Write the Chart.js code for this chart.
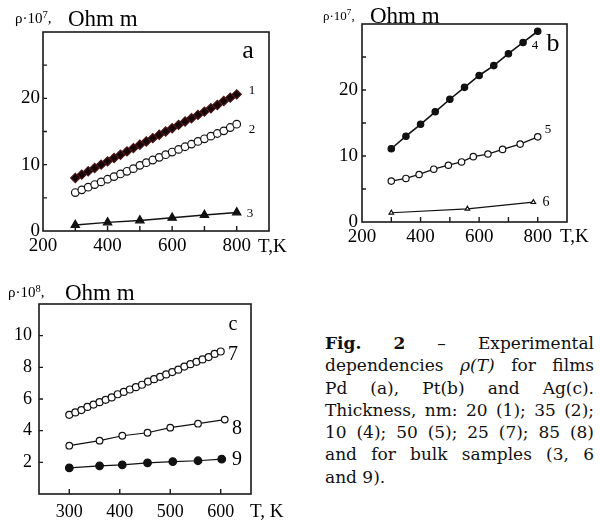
<!DOCTYPE html>
<html>
<head>
<meta charset="utf-8">
<script src="https://cdn.jsdelivr.net/npm/chart.js@4.4.0/dist/chart.umd.min.js"></script>
<style>
  html, body { margin: 0; padding: 0; background: #fff; }
  #page { position: relative; width: 600px; height: 523px; overflow: hidden; font-family: "Liberation Serif", serif; color: #000; }
  canvas { position: absolute; }
  .c { position: absolute; white-space: nowrap; line-height: 1; transform: translate(-50%, -50%); }
  .l { position: absolute; white-space: nowrap; line-height: 1; transform: translateY(-50%); }
  .l sup { font-size: 0.7em; vertical-align: 0.45em; line-height: 0; }
  #caption { position: absolute; left: 325px; top: 332px; width: 269px; font-family: "DejaVu Serif", serif; font-size: 17px; color: #111; }
  #caption div { height: 22.3px; line-height: 22.3px; white-space: nowrap; text-align: justify; text-align-last: justify; }
  #caption div.last { text-align: left; text-align-last: left; }
</style>
</head>
<body>
<div id="page">
  <canvas id="chartA" width="300" height="260" style="left:0;top:0"></canvas>
  <canvas id="chartB" width="300" height="260" style="left:300px;top:0"></canvas>
  <canvas id="chartC" width="300" height="253" style="left:0;top:270px"></canvas>

  <!-- panel a -->
  <div class="l" style="left:15px;top:18px;font-size:15px">ρ·10<sup>7</sup>,</div>
  <div class="l" style="left:68px;top:18px;font-size:23px">Ohm m</div>
  <div class="c" style="left:248px;top:50px;font-size:26px">a</div>
  <div class="c" style="left:252px;top:89px;font-size:13px">1</div>
  <div class="c" style="left:252px;top:128px;font-size:13px">2</div>
  <div class="c" style="left:250px;top:212px;font-size:13px">3</div>
  <div class="l" style="left:258px;top:245px;font-size:19px">T,K</div>

  <!-- panel b -->
  <div class="l" style="left:323px;top:15px;font-size:13px">ρ·10<sup>7</sup>,</div>
  <div class="l" style="left:370px;top:15px;font-size:23px">Ohm m</div>
  <div class="c" style="left:553px;top:43px;font-size:26px">b</div>
  <div class="c" style="left:535px;top:44px;font-size:13px">4</div>
  <div class="c" style="left:548px;top:128px;font-size:13px">5</div>
  <div class="c" style="left:546px;top:202px;font-size:14px">6</div>
  <div class="l" style="left:560px;top:235px;font-size:19px">T,K</div>

  <!-- panel c -->
  <div class="l" style="left:8px;top:292px;font-size:15px">ρ·10<sup>8</sup>,</div>
  <div class="l" style="left:65px;top:292px;font-size:23px">Ohm m</div>
  <div class="c" style="left:233px;top:323px;font-size:20px">c</div>
  <div class="c" style="left:233px;top:353px;font-size:20px">7</div>
  <div class="c" style="left:237px;top:427px;font-size:20px">8</div>
  <div class="c" style="left:237px;top:458px;font-size:20px">9</div>
  <div class="l" style="left:250px;top:510px;font-size:19px">T, K</div>

  <div id="caption">
    <div><b>Fig.</b> <b>2</b> – Experimental</div>
    <div>dependencies <i>ρ(T)</i> for films</div>
    <div>Pd (a), Pt(b) and Ag(c).</div>
    <div>Thickness, nm: 20 (1); 35 (2);</div>
    <div>10 (4); 50 (5); 25 (7); 85 (8)</div>
    <div>and for bulk samples (3, 6</div>
    <div class="last">and 9).</div>
  </div>
</div>

<script>
// ---- data ----
// panel a : Pd films
const tempA = [300, 320, 340, 360, 380, 400, 420, 440, 460, 480, 500, 520, 540,
               560, 580, 600, 620, 640, 660, 680, 700, 720, 740, 760, 780, 800];
const rhoA1 = [8.0, 8.5, 9.0, 9.5, 10.0, 10.5, 11.0, 11.5, 12.0, 12.5, 13.0, 13.5, 14.0,
               14.5, 15.0, 15.5, 16.0, 16.5, 17.0, 17.5, 18.0, 18.5, 19.0, 19.6, 20.1, 20.6];
const rhoA2 = [5.8, 6.2, 6.6, 7.0, 7.4, 7.8, 8.2, 8.6, 9.0, 9.4, 9.9, 10.3, 10.7,
               11.1, 11.5, 11.9, 12.3, 12.7, 13.1, 13.5, 13.9, 14.3, 14.7, 15.1, 15.6, 16.1];
const tempA3 = [300, 400, 500, 600, 700, 800];
const rhoA3 = [0.9, 1.3, 1.6, 2.0, 2.4, 2.8];

// panel b : Pt films
const tempB4 = [300, 350, 400, 450, 500, 550, 600, 650, 700, 750, 800];
const rhoB4 = [11.1, 13.0, 14.8, 16.7, 18.6, 20.4, 22.2, 23.7, 25.5, 27.2, 28.9];
const tempB5 = [300, 350, 395, 445, 495, 540, 580, 630, 680, 740, 800];
const rhoB5 = [6.2, 6.6, 7.2, 8.0, 8.6, 9.1, 9.9, 10.3, 11.0, 11.8, 12.9];
const tempB6 = [300, 560, 785];
const rhoB6 = [1.4, 2.0, 3.0];

// panel c : Ag films
const tempC7 = [300, 312, 324, 336, 348, 360, 372, 384, 396, 408, 420, 432, 444,
                456, 468, 480, 492, 504, 516, 528, 540, 552, 564, 576, 588, 600];
const rhoC7 = [5.0, 5.15, 5.3, 5.5, 5.65, 5.8, 5.95, 6.1, 6.3, 6.45, 6.6, 6.75, 6.9,
               7.1, 7.25, 7.4, 7.55, 7.7, 7.85, 8.05, 8.2, 8.35, 8.5, 8.65, 8.85, 9.0];
const tempC8 = [300, 360, 405, 455, 500, 555, 608];
const rhoC8 = [3.05, 3.37, 3.68, 3.87, 4.19, 4.44, 4.7];
const tempC9 = [300, 360, 405, 455, 505, 555, 602];
const rhoC9 = [1.65, 1.78, 1.84, 1.97, 2.05, 2.1, 2.2];

// ticks
const ticksXA = [200, 300, 400, 500, 600, 700, 800, 900];
const labelsXA = [200, 400, 600, 800];
const ticksYA = [0, 5, 10, 15, 20, 25, 30];
const labelsYA = [0, 10, 20];
const ticksXC = [300, 400, 500, 600];
const labelsXC = [300, 400, 500, 600];
const ticksYC = [0, 2, 4, 6, 8, 10, 12];
const labelsYC = [2, 4, 6, 8, 10];

function pts(xs, ys) {
    return xs.map((x, i) => ({ x: x, y: ys[i] }));
}

// frame around the plot area + inward tick marks
const framePlugin = {
    id: 'frame',
    afterDraw(chart) {
        const ctx = chart.ctx;
        const a = chart.chartArea;
        const x = chart.scales.x, y = chart.scales.y;
        ctx.save();
        ctx.strokeStyle = '#1a1a1a';
        ctx.lineWidth = 1.6;
        ctx.strokeRect(a.left, a.top, a.right - a.left, a.bottom - a.top);
        ctx.lineWidth = 1.4;
        ctx.beginPath();
        x.ticks.forEach(t => {
            const px = x.getPixelForValue(t.value);
            if (px > a.left + 2 && px < a.right - 2) {
                ctx.moveTo(px, a.bottom);
                ctx.lineTo(px, a.bottom - 5);
            }
        });
        y.ticks.forEach(t => {
            const py = y.getPixelForValue(t.value);
            if (py > a.top + 2 && py < a.bottom - 2) {
                ctx.moveTo(a.left, py);
                ctx.lineTo(a.left + 4, py);
            }
        });
        ctx.stroke();
        ctx.restore();
    }
};

function series(data, style, radius, fill, lineW, edge) {
    return {
        data: data,
        showLine: true,
        borderColor: '#111',
        borderWidth: lineW,
        pointStyle: style,
        pointRadius: radius,
        pointBackgroundColor: fill,
        pointBorderColor: edge || '#111',
        pointBorderWidth: 1.2
    };
}

function makePanel(id, datasets, opt) {
    const tickFont = { family: 'Liberation Serif', size: opt.fontSize };
    return new Chart(document.getElementById(id), {
        type: 'scatter',
        data: { datasets: datasets },
        options: {
            responsive: false,
            animation: false,
            layout: { padding: { left: 0, top: opt.padTop, right: opt.padRight, bottom: 0 } },
            plugins: { legend: { display: false }, tooltip: { enabled: false } },
            scales: {
                x: {
                    type: 'linear',
                    min: opt.xMin, max: opt.xMax,
                    afterBuildTicks: s => { s.ticks = opt.ticksX.map(v => ({ value: v })); },
                    afterFit: s => { s.height = opt.xH; },
                    grid: { display: false, drawTicks: false },
                    border: { display: false },
                    ticks: {
                        autoSkip: false, maxRotation: 0, padding: opt.xPad,
                        color: '#000', font: tickFont,
                        callback: v => opt.labelsX.includes(v) ? String(v) : ''
                    }
                },
                y: {
                    type: 'linear',
                    min: opt.yMin, max: opt.yMax,
                    afterBuildTicks: s => { s.ticks = opt.ticksY.map(v => ({ value: v })); },
                    afterFit: s => { s.width = opt.yW; },
                    grid: { display: false, drawTicks: false },
                    border: { display: false },
                    ticks: {
                        autoSkip: false, padding: opt.yPad,
                        color: '#000', font: tickFont,
                        callback: v => opt.labelsY.includes(v) ? String(v) : ''
                    }
                }
            }
        },
        plugins: [framePlugin]
    });
}

makePanel('chartA', [
    series(pts(tempA, rhoA1), 'rectRot', 4.6, '#140606', 1.2, '#4a1414'),
    series(pts(tempA, rhoA2), 'circle', 3.8, '#fff', 1.2),
    series(pts(tempA3, rhoA3), 'triangle', 4.8, '#111', 1.5)
], {
    xMin: 200, xMax: 900, yMin: 0, yMax: 30,
    ticksX: ticksXA, labelsX: labelsXA, ticksY: ticksYA, labelsY: labelsYA,
    padTop: 32, padRight: 31, xH: 29, yW: 43, xPad: 4, yPad: 3, fontSize: 19
});

makePanel('chartB', [
    series(pts(tempB4, rhoB4), 'circle', 3.2, '#111', 1.6),
    series(pts(tempB5, rhoB5), 'circle', 3.2, '#fff', 1.3),
    series(pts(tempB6, rhoB6), 'triangle', 2.6, '#fff', 1.2)
], {
    xMin: 200, xMax: 900, yMin: 0, yMax: 30,
    ticksX: ticksXA, labelsX: labelsXA, ticksY: ticksYA, labelsY: labelsYA,
    padTop: 24, padRight: 33, xH: 38, yW: 62, xPad: 4, yPad: 4, fontSize: 19
});

makePanel('chartC', [
    series(pts(tempC7, rhoC7), 'circle', 3.5, '#fff', 1.0),
    series(pts(tempC8, rhoC8), 'circle', 3.3, '#fff', 1.2),
    series(pts(tempC9, rhoC9), 'circle', 3.8, '#111', 1.2)
], {
    xMin: 240, xMax: 660, yMin: 0, yMax: 12,
    ticksX: ticksXC, labelsX: labelsXC, ticksY: ticksYC, labelsY: labelsYC,
    padTop: 34, padRight: 49, xH: 29, yW: 39, xPad: 7, yPad: 7, fontSize: 18
});
</script>
</body>
</html>
